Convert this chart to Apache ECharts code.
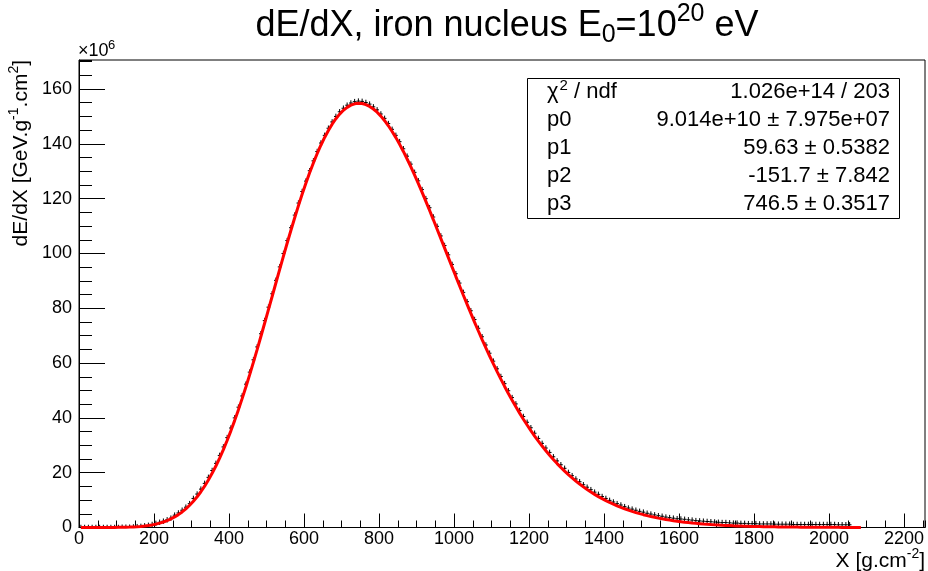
<!DOCTYPE html>
<html><head><meta charset="utf-8">
<script src="https://cdn.jsdelivr.net/npm/echarts@6/dist/echarts.min.js"></script>
<style>html,body{margin:0;padding:0;background:#fff}#c{width:928px;height:571px}</style>
</head><body><div id="c"></div>
<script>
// Histogram bin centres (g/cm^2), bin width 10
const binCenters = [
  5,15,25,35,45,55,65,75,85,95,
  105,115,125,135,145,155,165,175,185,195,
  205,215,225,235,245,255,265,275,285,295,
  305,315,325,335,345,355,365,375,385,395,
  405,415,425,435,445,455,465,475,485,495,
  505,515,525,535,545,555,565,575,585,595,
  605,615,625,635,645,655,665,675,685,695,
  705,715,725,735,745,755,765,775,785,795,
  805,815,825,835,845,855,865,875,885,895,
  905,915,925,935,945,955,965,975,985,995,
  1005,1015,1025,1035,1045,1055,1065,1075,1085,1095,
  1105,1115,1125,1135,1145,1155,1165,1175,1185,1195,
  1205,1215,1225,1235,1245,1255,1265,1275,1285,1295,
  1305,1315,1325,1335,1345,1355,1365,1375,1385,1395,
  1405,1415,1425,1435,1445,1455,1465,1475,1485,1495,
  1505,1515,1525,1535,1545,1555,1565,1575,1585,1595,
  1605,1615,1625,1635,1645,1655,1665,1675,1685,1695,
  1705,1715,1725,1735,1745,1755,1765,1775,1785,1795,
  1805,1815,1825,1835,1845,1855,1865,1875,1885,1895,
  1905,1915,1925,1935,1945,1955,1965,1975,1985,1995,
  2005,2015,2025,2035,2045,2055
];
// dE/dX per bin (x10^6 GeV g^-1 cm^2)
const dataValues = [
  0,0,0,0,0,0,0,0,0,0,
  0,0.1,0.1,0.1,0.2,0.3,0.4,0.6,0.8,1.1,
  1.5,1.9,2.3,2.8,3.4,4.5,5.3,6.3,7.4,8.7,
  10.6,12.2,14.0,16.1,18.3,20.8,23.4,26.3,29.4,32.8,
  36.3,40.0,43.9,48.0,52.3,56.7,61.2,65.9,70.7,75.5,
  80.4,85.3,90.2,95.1,100.0,104.7,109.4,114.0,118.4,122.6,
  126.4,130.2,133.8,137.2,140.3,143.1,145.7,148.0,150.0,151.7,
  153.0,154.1,154.9,155.4,155.6,155.5,155.1,154.5,153.5,152.4,
  150.9,149.3,147.4,145.3,143.1,140.8,138.2,135.5,132.6,129.6,
  126.5,123.3,120.0,116.7,113.3,109.9,106.4,102.9,99.5,96.0,
  92.6,89.2,85.8,82.4,79.1,75.9,72.7,69.6,66.6,63.6,
  60.7,57.9,55.1,52.5,49.9,47.4,45.1,42.7,40.5,38.4,
  36.4,34.4,32.5,30.7,29.0,27.4,25.8,24.3,22.9,21.6,
  20.1,18.9,17.7,16.7,15.6,14.7,13.8,12.9,12.1,11.3,
  10.6,9.9,9.3,8.7,8.2,7.6,7.1,6.7,6.3,5.9,
  5.6,5.2,4.9,4.6,4.3,4.1,3.8,3.6,3.4,3.2,
  3.1,3.0,2.8,2.7,2.5,2.4,2.3,2.2,2.1,2.0,
  1.9,1.8,1.8,1.7,1.6,1.6,1.5,1.5,1.4,1.4,
  1.4,1.3,1.3,1.3,1.3,1.2,1.2,1.2,1.2,1.2,
  1.1,1.1,1.1,1.1,1.1,1.1,1.1,1.1,1.1,1.1,
  1.1,1.1,1.0,1.0,1.0,1.0
];
const yError = 1.0;
const binHalfWidth = 5;

// Red fitted curve
const fitX = binCenters.concat([2065, 2075, 2085]);
const fitValues = [
  0,0,0,0,0,0,0.01,0.01,0.02,0.03,
  0.05,0.07,0.10,0.15,0.21,0.29,0.40,0.55,0.73,0.95,
  1.24,1.59,2.01,2.53,3.14,3.86,4.70,5.68,6.82,8.11,
  9.56,11.20,13.04,15.07,17.31,19.76,22.43,25.32,28.43,31.75,
  35.27,39.00,42.92,47.02,51.29,55.69,60.24,64.93,69.70,74.53,
  79.40,84.30,89.23,94.13,98.97,103.73,108.39,112.95,117.36,121.59,
  125.62,129.44,133.04,136.41,139.50,142.33,144.88,147.18,149.18,150.86,
  152.24,153.32,154.12,154.61,154.80,154.71,154.32,153.66,152.72,151.55,
  150.12,148.46,146.59,144.52,142.27,139.82,137.23,134.47,131.60,128.59,
  125.48,122.27,119.00,115.67,112.28,108.85,105.40,101.94,98.47,95.01,
  91.57,88.15,84.76,81.42,78.12,74.88,71.70,68.58,65.55,62.58,
  59.68,56.87,54.13,51.48,48.92,46.44,44.05,41.74,39.52,37.40,
  35.35,33.38,31.51,29.72,28.00,26.36,24.80,23.32,21.90,20.56,
  19.29,18.08,16.94,15.86,14.83,13.86,12.95,12.09,11.28,10.52,
  9.81,9.13,8.50,7.91,7.35,6.83,6.34,5.88,5.45,5.05,
  4.68,4.33,4.01,3.71,3.43,3.17,2.92,2.70,2.49,2.30,
  2.12,1.95,1.79,1.65,1.52,1.40,1.28,1.18,1.08,0.99,
  0.91,0.83,0.76,0.70,0.64,0.59,0.54,0.49,0.45,0.41,
  0.37,0.34,0.31,0.29,0.26,0.24,0.22,0.20,0.18,0.16,
  0.15,0.14,0.12,0.11,0.10,0.09,0.09,0.08,0.07,0.06,
  0.06,0.05,0.05,0.04,0.04,0.04,0.03,0.03,0.03
];

// Axis ranges
const xRange = [0, 2256];
const yRange = [0, 170.6];
const xMajor = 200, xMinor = 50, yMajor = 20, yMinor = 5;

// Texts
const titleParts = ['dE/dX, iron nucleus E', '0', '=10', '20', ' eV'];
const yTitleParts = ['dE/dX [GeV.g', '-1', '.cm', '2', ']'];
const xTitleParts = ['X [g.cm', '-2', ']'];
const yScaleParts = ['×10', '6'];
const statNames = ['{chi|χ}{sup|2}{n| / ndf}', 'p0', 'p1', 'p2', 'p3'];
const statValues = ['1.026e+14 / 203', '9.014e+10 ± 7.975e+07', '59.63 ± 0.5382', '-151.7 ± 7.842', '746.5 ± 0.3517'];

const FONT = 'Liberation Sans, Arial, Helvetica, sans-serif';
const chart = echarts.init(document.getElementById('c'), null, {renderer: 'canvas'});

const baseAxisX = {
  type: 'value', min: xRange[0], max: xRange[1], position: 'bottom',
  splitLine: {show: false}
};
const baseAxisY = {
  type: 'value', min: yRange[0], max: yRange[1], position: 'left',
  splitLine: {show: false}
};

const statsGraphics = [];
statsGraphics.push({
  type: 'rect', z: 10,
  shape: {x: 527.5, y: 78.5, width: 372, height: 140},
  style: {fill: '#fff', stroke: '#000', lineWidth: 1}
});
statNames.forEach((n, i) => {
  const y = 92 + i * 28;
  statsGraphics.push({
    type: 'text', z: 11, x: 547, y: y,
    style: {
      text: n, fill: '#000', font: '22px ' + FONT, align: 'left', verticalAlign: 'middle',
      rich: {
        chi: {fontSize: 22, fontFamily: FONT, fill: '#000'},
        sup: {fontSize: 15, fontFamily: FONT, fill: '#000', padding: [0, 0, 13, 1]},
        n: {fontSize: 22, fontFamily: FONT, fill: '#000'}
      }
    }
  });
  statsGraphics.push({
    type: 'text', z: 11, x: 890, y: y,
    style: {text: statValues[i], fill: '#000', font: '22px ' + FONT, align: 'right', verticalAlign: 'middle'}
  });
});

const plainLabel = v => String(v);

const option = {
  animation: false,
  backgroundColor: '#fff',
  grid: {left: 79, right: 3, top: 60, bottom: 43.5, show: true, borderColor: '#000', borderWidth: 1, backgroundColor: 'transparent'},
  xAxis: [
    Object.assign({}, baseAxisX, {
      interval: xMajor,
      axisLine: {show: true, lineStyle: {color: '#000', width: 1}},
      axisTick: {show: true, inside: true, length: 14, lineStyle: {color: '#000', width: 1}},
      axisLabel: {show: true, color: '#000', fontSize: 18, fontFamily: FONT, margin: 3, showMaxLabel: false, formatter: plainLabel}
    }),
    Object.assign({}, baseAxisX, {
      interval: xMinor,
      axisLine: {show: false},
      axisTick: {show: true, inside: true, length: 7, lineStyle: {color: '#000', width: 1}},
      axisLabel: {show: false}
    })
  ],
  yAxis: [
    Object.assign({}, baseAxisY, {
      interval: yMajor,
      axisLine: {show: true, lineStyle: {color: '#000', width: 1}},
      axisTick: {show: true, inside: true, length: 26, lineStyle: {color: '#000', width: 1}},
      axisLabel: {show: true, color: '#000', fontSize: 18, fontFamily: FONT, margin: 7, showMaxLabel: false, formatter: plainLabel}
    }),
    Object.assign({}, baseAxisY, {
      interval: yMinor,
      axisLine: {show: false},
      axisTick: {show: true, inside: true, length: 13, lineStyle: {color: '#000', width: 1}},
      axisLabel: {show: false}
    })
  ],
  series: [
    {
      type: 'custom', name: 'data', xAxisIndex: 0, yAxisIndex: 0, clip: true, z: 2,
      data: binCenters.map((x, i) => [x, dataValues[i], yError]),
      renderItem: function (params, api) {
        const x = api.value(0), y = api.value(1), e = api.value(2);
        const pL = api.coord([x - binHalfWidth, y]);
        const pR = api.coord([x + binHalfWidth, y]);
        const pT = api.coord([x, y + e]);
        const pB = api.coord([x, y - e]);
        const st = {stroke: '#000', lineWidth: 1};
        return {type: 'group', children: [
          {type: 'line', shape: {x1: pL[0], y1: pL[1], x2: pR[0], y2: pR[1]}, style: st},
          {type: 'line', shape: {x1: pT[0], y1: pT[1], x2: pB[0], y2: pB[1]}, style: st}
        ]};
      }
    },
    {
      type: 'line', name: 'fit', xAxisIndex: 0, yAxisIndex: 0, z: 3,
      data: fitX.map((x, i) => [x, fitValues[i]]),
      showSymbol: false, symbol: 'none', smooth: false, clip: true,
      lineStyle: {color: '#ff0000', width: 3}
    }
  ],
  graphic: [
    {
      type: 'text', x: 507, y: 26,
      style: {
        text: '{a|' + titleParts[0] + '}{sub|' + titleParts[1] + '}{a|' + titleParts[2] + '}{sup|' + titleParts[3] + '}{a|' + titleParts[4] + '}',
        align: 'center', verticalAlign: 'middle',
        rich: {
          a: {fontSize: 36, fontFamily: FONT, fill: '#000'},
          sub: {fontSize: 25, fontFamily: FONT, fill: '#000', padding: [18, 0, 0, 0]},
          sup: {fontSize: 25, fontFamily: FONT, fill: '#000', padding: [0, 0, 24, 0]}
        }
      }
    },
    {
      type: 'text', x: 78, y: 51,
      style: {text: yScaleParts[0], font: '18px ' + FONT, fill: '#000', align: 'left', verticalAlign: 'middle'}
    },
    {
      type: 'text', x: 108, y: 45,
      style: {text: yScaleParts[1], font: '13px ' + FONT, fill: '#000', align: 'left', verticalAlign: 'middle'}
    },
    {
      type: 'text', x: 21, y: 60, rotation: Math.PI / 2,
      style: {
        text: '{a|' + yTitleParts[0] + '}{sup|' + yTitleParts[1] + '}{a|' + yTitleParts[2] + '}{sup|' + yTitleParts[3] + '}{a|' + yTitleParts[4] + '}',
        font: '21px ' + FONT, align: 'right', verticalAlign: 'middle',
        rich: {
          a: {fontSize: 21, fontFamily: FONT, fill: '#000'},
          sup: {fontSize: 14, fontFamily: FONT, fill: '#000', padding: [0, 0, 14, 0]}
        }
      }
    },
    {
      type: 'text', x: 925, y: 561,
      style: {
        text: '{a|' + xTitleParts[0] + '}{sup|' + xTitleParts[1] + '}{a|' + xTitleParts[2] + '}',
        font: '21px ' + FONT, align: 'right', verticalAlign: 'middle',
        rich: {
          a: {fontSize: 21, fontFamily: FONT, fill: '#000'},
          sup: {fontSize: 14, fontFamily: FONT, fill: '#000', padding: [0, 0, 14, 0]}
        }
      }
    }
  ].concat(statsGraphics)
};
chart.setOption(option);
</script>
</body></html>
